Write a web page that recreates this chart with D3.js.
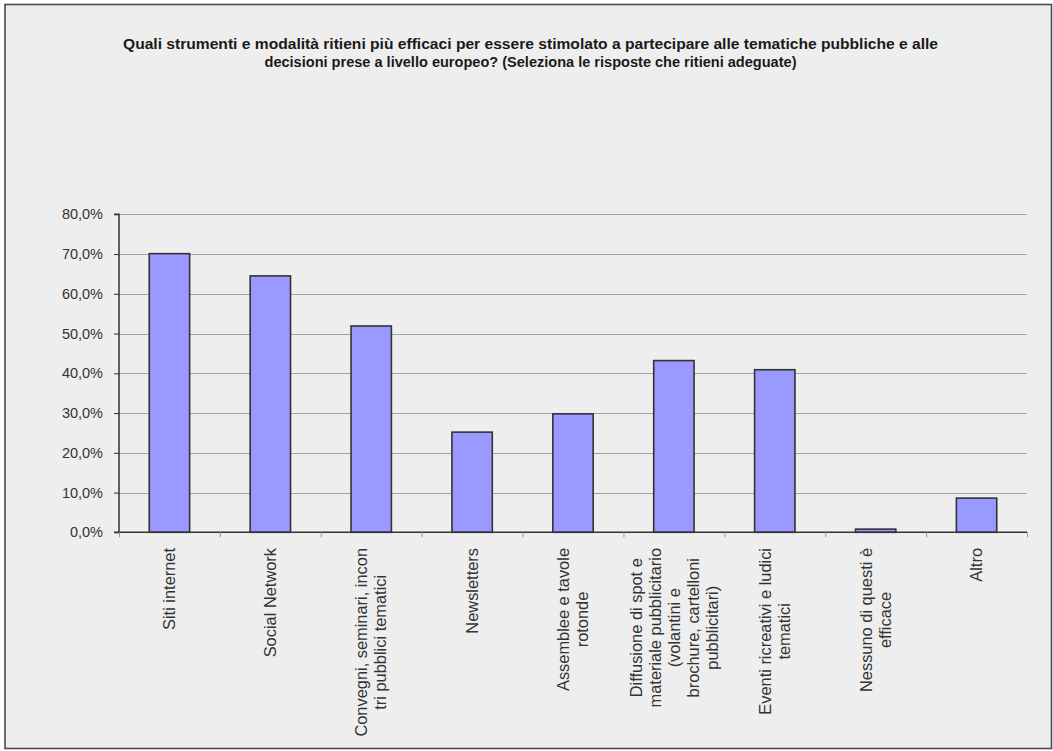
<!DOCTYPE html>
<html>
<head>
<meta charset="utf-8">
<script src="https://cdn.jsdelivr.net/npm/d3@7"></script>
<style>
  html, body { margin: 0; padding: 0; background: #ffffff; }
  svg { display: block; }
  text { font-family: "Liberation Sans", Arial, sans-serif; }
</style>
</head>
<body>
<svg id="chart" width="1053" height="751"></svg>
<script>
const titleLines = [
  "Quali strumenti e modalità ritieni più efficaci per essere stimolato a partecipare alle tematiche pubbliche e alle",
  "decisioni prese a livello europeo? (Seleziona le risposte che ritieni adeguate)"
];
const categories = [
  "Siti internet",
  "Social Network",
  "Convegni, seminari, incon\ntri pubblici tematici",
  "Newsletters",
  "Assemblee e tavole\nrotonde",
  "Diffusione di spot e\nmateriale pubblicitario\n(volantini e\nbrochure, cartelloni\npubblicitari)",
  "Eventi ricreativi e ludici\ntematici",
  "Nessuno di questi è\nefficace",
  "Altro"
];
const values = [70.1, 64.5, 51.9, 25.2, 29.8, 43.2, 40.9, 0.8, 8.6];
const yTicks = [0, 10, 20, 30, 40, 50, 60, 70, 80];

const svg = d3.select("#chart");

// chart background + border
svg.append("rect")
  .attr("x", 5).attr("y", 4.5).attr("width", 1046.5).attr("height", 744)
  .attr("fill", "#eeeeee").attr("stroke", "#4a4a4a").attr("stroke-width", 1.6);

const plot = { left: 119, right: 1027, top: 214.3, bottom: 532.3 };

const x = d3.scaleBand()
  .domain(categories)
  .range([plot.left, plot.right])
  .paddingInner(0.6)
  .paddingOuter(0.3);

const xEdge = d3.scaleLinear().domain([0, categories.length]).range([plot.left, plot.right]);

const y = d3.scaleLinear().domain([0, 80]).range([plot.bottom, plot.top]);

// gridlines
svg.append("g")
  .selectAll("line")
  .data(yTicks.filter(d => d > 0))
  .join("line")
  .attr("x1", plot.left).attr("x2", plot.right)
  .attr("y1", d => Math.round(y(d)) + 0.5).attr("y2", d => Math.round(y(d)) + 0.5)
  .attr("stroke", "#a3a3a3").attr("stroke-width", 1);

// bars
svg.append("g")
  .selectAll("rect")
  .data(values)
  .join("rect")
  .attr("x", (d, i) => x(categories[i]))
  .attr("width", x.bandwidth())
  .attr("y", d => y(d))
  .attr("height", d => y(0) - y(d))
  .attr("fill", "#9999ff")
  .attr("stroke", "#333333")
  .attr("stroke-width", 1.6);

// y axis
const yAxis = d3.axisLeft(y)
  .tickValues(yTicks)
  .tickSize(5)
  .tickPadding(11)
  .tickFormat(d => d.toFixed(1).replace(".", ",") + "%");
const ya = svg.append("g").attr("transform", `translate(${plot.left},0)`).call(yAxis);
ya.select(".domain").attr("stroke", "#333333").attr("stroke-width", 1.5).attr("d", `M-5,${plot.top}H0V${plot.bottom}H-5`);
ya.selectAll(".tick line").attr("stroke", "#333333").attr("stroke-width", 1);
ya.selectAll(".tick text")
  .attr("fill", "#333333")
  .style("font-size", "14.5px")
  .style("font-family", "'Liberation Sans', Arial, sans-serif");

// x axis line
const xAxis = d3.axisBottom(xEdge)
  .tickValues(d3.range(0, categories.length + 1))
  .tickSize(5)
  .tickFormat("");
const xa = svg.append("g").attr("transform", `translate(0,${plot.bottom})`).call(xAxis);
xa.select(".domain").attr("stroke", "#333333").attr("stroke-width", 1.5).attr("d", `M${plot.left},0H${plot.right}`);
xa.selectAll(".tick line").attr("stroke", "#999999").attr("stroke-width", 1);

// category labels (rotated, block top aligned under axis)
const labelTop = 548;
const lineH = 19;
categories.forEach((c, i) => {
  const lines = c.split("\n");
  const cx = x(c) + x.bandwidth() / 2;
  const g = svg.append("g").attr("transform", `translate(${cx},${labelTop}) rotate(-90)`);
  const texts = g.selectAll("text")
    .data(lines)
    .join("text")
    .attr("text-anchor", "middle")
    .attr("fill", "#333333")
    .style("font-size", "16.4px")
    .attr("y", (d, j) => (j - (lines.length - 1) / 2) * lineH)
    .attr("dy", "0.35em")
    .text(d => d);
  let maxW = 0;
  texts.each(function () { maxW = Math.max(maxW, this.getComputedTextLength()); });
  texts.attr("x", -maxW / 2);
});

// title
const tg = svg.append("g");
const titleWidths = [815, 532];
titleLines.forEach((t, i) => {
  tg.append("text")
    .attr("x", 530.5)
    .attr("y", 49 + i * 17.7)
    .attr("text-anchor", "middle")
    .attr("fill", "#1a1a1a")
    .style("font-size", "14px")
    .style("font-weight", "bold")
    .attr("textLength", titleWidths[i])
    .attr("lengthAdjust", "spacingAndGlyphs")
    .text(t);
});
</script>
</body>
</html>
